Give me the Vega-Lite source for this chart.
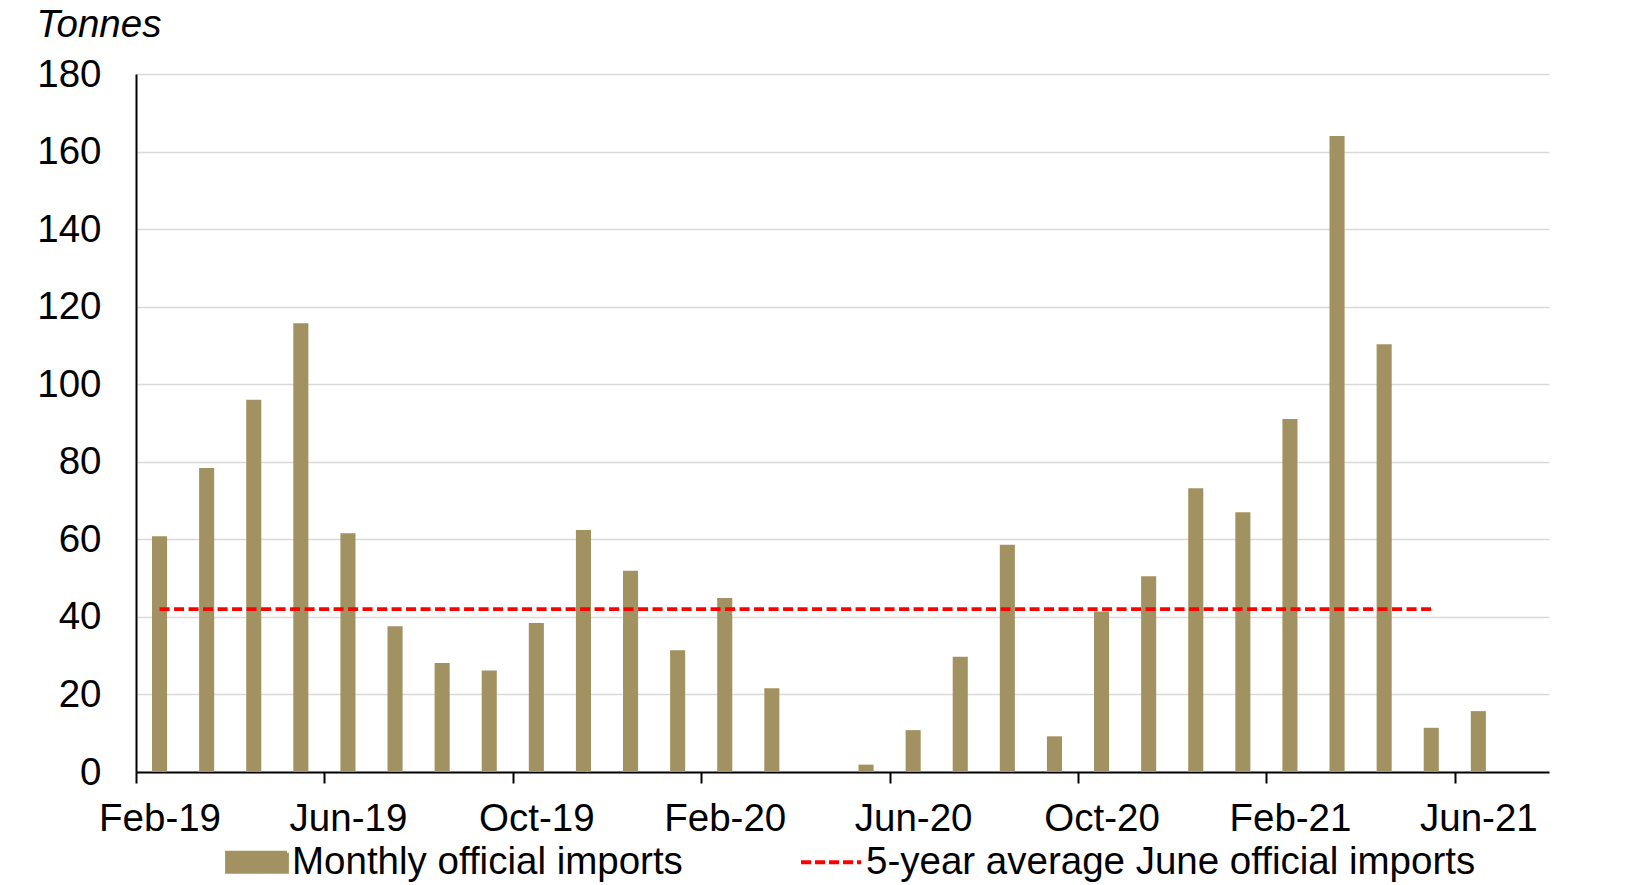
{
  "$schema": "https://vega.github.io/schema/vega-lite/v6.json",
  "width": 1413,
  "height": 698,
  "autosize": {"type": "none"},
  "padding": {"left": 136, "top": 74, "right": 96, "bottom": 113},
  "background": "white",
  "config": {
    "view": {"stroke": null},
    "font": "Liberation Sans",
    "axis": {"labelFont": "Liberation Sans", "titleFont": "Liberation Sans", "labelColor": "black", "titleColor": "black"},
    "legend": {"labelFont": "Liberation Sans"}
  },
  "data": {
    "values": [
      {"month": "Feb-19", "imports": 60.8, "avg": 42},
      {"month": "Mar-19", "imports": 78.4, "avg": 42},
      {"month": "Apr-19", "imports": 96, "avg": 42},
      {"month": "May-19", "imports": 115.7, "avg": 42},
      {"month": "Jun-19", "imports": 61.6, "avg": 42},
      {"month": "Jul-19", "imports": 37.6, "avg": 42},
      {"month": "Aug-19", "imports": 28.1, "avg": 42},
      {"month": "Sep-19", "imports": 26.2, "avg": 42},
      {"month": "Oct-19", "imports": 38.4, "avg": 42},
      {"month": "Nov-19", "imports": 62.4, "avg": 42},
      {"month": "Dec-19", "imports": 51.9, "avg": 42},
      {"month": "Jan-20", "imports": 31.4, "avg": 42},
      {"month": "Feb-20", "imports": 44.9, "avg": 42},
      {"month": "Mar-20", "imports": 21.6, "avg": 42},
      {"month": "Apr-20", "imports": 0, "avg": 42},
      {"month": "May-20", "imports": 1.9, "avg": 42},
      {"month": "Jun-20", "imports": 10.8, "avg": 42},
      {"month": "Jul-20", "imports": 29.7, "avg": 42},
      {"month": "Aug-20", "imports": 58.6, "avg": 42},
      {"month": "Sep-20", "imports": 9.2, "avg": 42},
      {"month": "Oct-20", "imports": 41.4, "avg": 42},
      {"month": "Nov-20", "imports": 50.5, "avg": 42},
      {"month": "Dec-20", "imports": 73.2, "avg": 42},
      {"month": "Jan-21", "imports": 67, "avg": 42},
      {"month": "Feb-21", "imports": 91, "avg": 42},
      {"month": "Mar-21", "imports": 164, "avg": 42},
      {"month": "Apr-21", "imports": 110.3, "avg": 42},
      {"month": "May-21", "imports": 11.4, "avg": 42},
      {"month": "Jun-21", "imports": 15.7, "avg": null}
    ]
  },
  "encoding": {
    "x": {
      "field": "month",
      "type": "ordinal",
      "sort": null,
      "scale": {
        "domain": ["Feb-19","Mar-19","Apr-19","May-19","Jun-19","Jul-19","Aug-19","Sep-19","Oct-19","Nov-19","Dec-19","Jan-20","Feb-20","Mar-20","Apr-20","May-20","Jun-20","Jul-20","Aug-20","Sep-20","Oct-20","Nov-20","Dec-20","Jan-21","Feb-21","Mar-21","Apr-21","May-21","Jun-21","Jul-21"],
        "paddingInner": 0.68,
        "paddingOuter": 0.34
      },
      "axis": {
        "title": null,
        "values": ["Feb-19","Jun-19","Oct-19","Feb-20","Jun-20","Oct-20","Feb-21","Jun-21"],
        "labelAngle": 0,
        "labelFontSize": 38.5,
        "labelBaseline": "alphabetic",
        "labelPadding": 47,
        "tickSize": 11,
        "tickWidth": 2,
        "tickColor": "black",
        "tickOffset": -23.55,
        "labelOffset": 23.55,
        "domainColor": "black",
        "domainWidth": 2,
        "grid": false
      }
    }
  },
  "layer": [
    {
      "mark": {"type": "bar"},
      "encoding": {
        "y": {
          "field": "imports",
          "type": "quantitative",
          "scale": {"domain": [0, 180], "nice": false},
          "axis": {
            "title": "Tonnes",
            "titleAngle": 0,
            "titleX": -100,
            "titleY": -38,
            "titleAlign": "left",
            "titleBaseline": "alphabetic",
            "titleFontStyle": "italic",
            "titleFontWeight": "normal",
            "titleFontSize": 38.5,
            "values": [0,20,40,60,80,100,120,140,160,180],
            "labelFontSize": 38.5,
            "labelPadding": 35,
            "ticks": false,
            "grid": true,
            "gridColor": "#D9D9D9",
            "gridWidth": 1.5,
            "domainColor": "black",
            "domainWidth": 2
          }
        },
        "color": {
          "datum": "Monthly official imports",
          "type": "nominal",
          "scale": {
            "domain": ["Monthly official imports", "5-year average June official imports"],
            "range": ["#A39261", "#FF0000"]
          },
          "legend": {
            "title": null,
            "orient": "none",
            "direction": "horizontal",
            "legendX": 89,
            "legendY": 756,
            "padding": 0,
            "labelFontSize": 38.5,
            "labelColor": "black",
            "labelLimit": 1000,
            "labelOffset": 3,
            "columnPadding": 110,
            "symbolSize": 3600,
            "encode": {
              "symbols": {
                "update": {
                  "shape": {"signal": "datum.value === 'Monthly official imports' ? 'M-1,-0.317H1V0.317H-1Z' : 'M-1,0H1'"},
                  "fill": {"signal": "datum.value === 'Monthly official imports' ? '#A39261' : 'transparent'"},
                  "stroke": {"signal": "datum.value === 'Monthly official imports' ? 'transparent' : '#FF0000'"},
                  "strokeDash": {"signal": "datum.value === 'Monthly official imports' ? [1,0] : [10,4]"},
                  "strokeWidth": {"value": 3.8},
                  "size": {"value": 3600},
                  "opacity": {"value": 1}
                }
              }
            }
          }
        }
      }
    },
    {
      "mark": {"type": "line", "strokeDash": [10, 4.5], "strokeWidth": 3.8},
      "encoding": {
        "y": {"field": "avg", "type": "quantitative"},
        "color": {"datum": "5-year average June official imports", "type": "nominal"}
      }
    }
  ]
}
